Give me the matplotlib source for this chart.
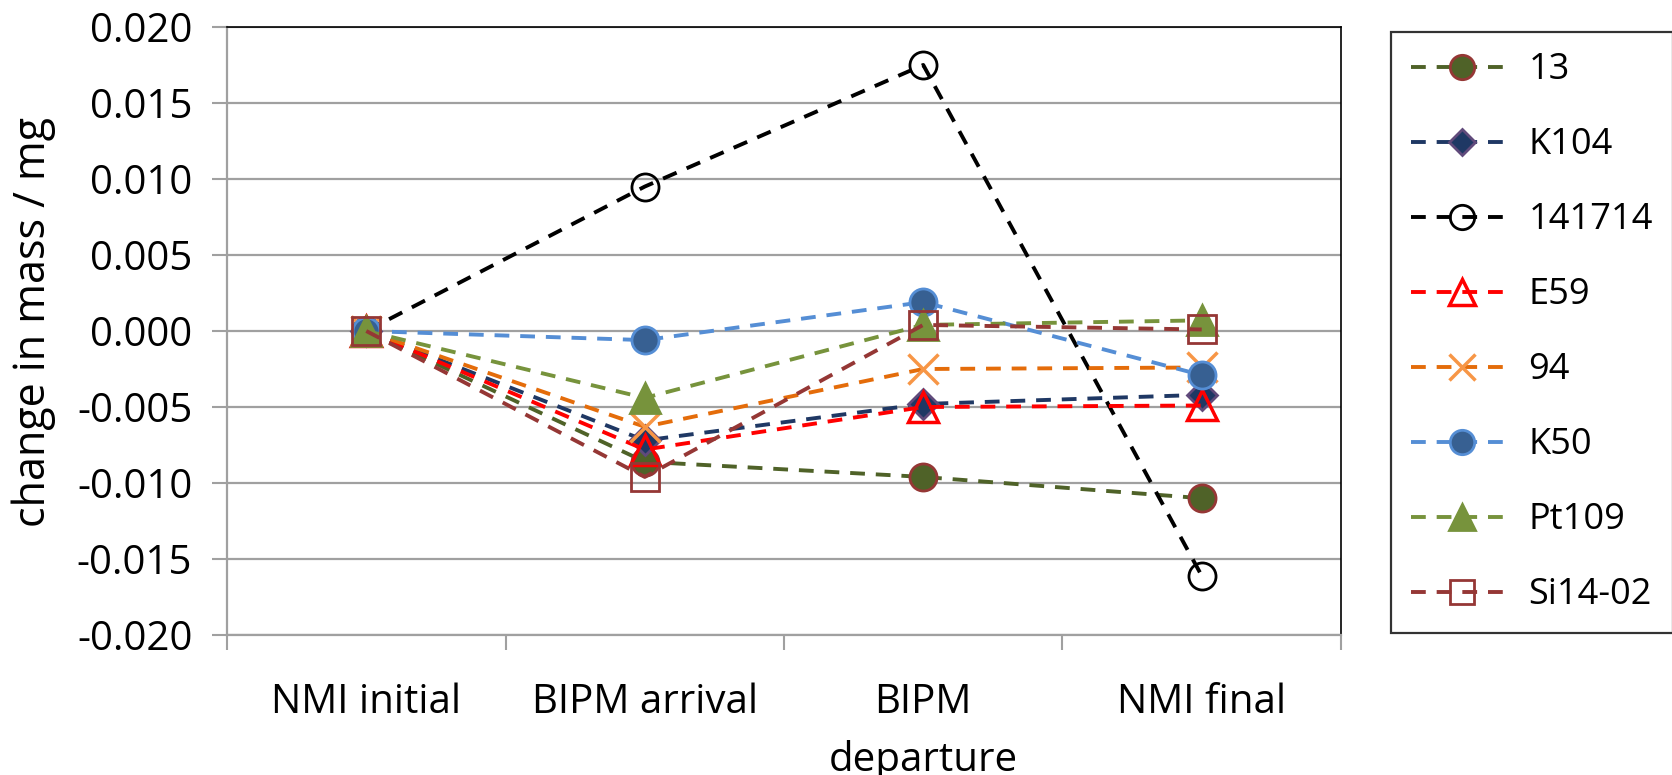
import matplotlib
matplotlib.use('Agg')
import matplotlib.pyplot as plt
from matplotlib.ticker import FixedLocator, FormatStrFormatter

plt.rcParams['font.family'] = ['Open Sans', 'DejaVu Sans']
plt.rcParams['axes.unicode_minus'] = False

STAGES = ['NMI initial', 'BIPM arrival', 'BIPM\ndeparture', 'NMI final']
Y_TICKS = [-0.020, -0.015, -0.010, -0.005, 0.000, 0.005, 0.010, 0.015, 0.020]

S13 = [0.0, -0.0086, -0.0096, -0.0110]
K104 = [0.0, -0.0072, -0.0048, -0.0042]
S141714 = [0.0, 0.0095, 0.0175, -0.0161]
E59 = [0.0, -0.0078, -0.0050, -0.0049]
S94 = [0.0, -0.0063, -0.0025, -0.0024]
K50 = [0.0, -0.0006, 0.0019, -0.0029]
PT109 = [0.0, -0.0044, 0.0004, 0.0007]
SI1402 = [0.0, -0.0096, 0.0004, 0.0001]

# name, values, line colour, marker, face, edge, size
SERIES = [
    ('13', S13, '#4F6228', 'o', '#4F6228', '#953735', 19.5),
    ('K104', K104, '#1F3864', 'D', '#1F3864', '#604A7B', 15),
    ('141714', S141714, '#000000', 'o', 'none', '#000000', 19.5),
    ('E59', E59, '#FF0000', '^', 'none', '#FF0000', 21),
    ('94', S94, '#E46C0A', 'x', '#F79646', '#F79646', 21),
    ('K50', K50, '#558ED5', 'o', '#376092', '#558ED5', 19.5),
    ('Pt109', PT109, '#77933C', '^', '#77933C', '#77933C', 21),
    ('Si14-02', SI1402, '#953735', 's', 'none', '#953735', 19.5),
]

fig = plt.figure(figsize=(16.72, 7.75), dpi=100)
ax = fig.add_axes([0.1358, 0.1806, 0.8020 - 0.1358, 0.9652 - 0.1806])

x = list(range(len(STAGES)))
for name, vals, lc, mk, fc, ec, ms in SERIES:
    mew = 2.5 if (mk == '^' and fc == 'none') or mk == 'x' else 2
    ax.plot(x, vals, color=lc, linewidth=2.8, dashes=(3.8, 2.8), marker=mk,
            markersize=ms, markerfacecolor=fc, markeredgecolor=ec,
            markeredgewidth=mew, label=name)

ax.set_xlim(-0.5, 3.5)
ax.set_ylim(-0.020, 0.020)
ax.set_yticks(Y_TICKS)
ax.yaxis.set_major_formatter(FormatStrFormatter('%.3f'))
ax.set_xticks(x)
ax.set_xticklabels(STAGES, linespacing=1.55)
ax.xaxis.set_minor_locator(FixedLocator([-0.5, 0.5, 1.5, 2.5, 3.5]))
ax.tick_params(axis='x', which='major', length=0, pad=34, labelsize=29)
ax.tick_params(axis='x', which='minor', length=11, width=1.5, color='#A0A0A0')
ax.tick_params(axis='y', length=11, width=1.5, color='#A0A0A0', pad=14, labelsize=29)
ax.grid(axis='y', color='#A0A0A0', linewidth=1.6)
ax.set_axisbelow(True)
for side in ('left', 'bottom'):
    ax.spines[side].set_color('#A0A0A0')
    ax.spines[side].set_linewidth(1.6)
for side in ('top', 'right'):
    ax.spines[side].set_color('#000000')
    ax.spines[side].set_linewidth(1.2)

fig.text(0.0203, 0.585, 'change in mass / mg', rotation=90, ha='center',
         va='center', fontsize=31)

leg = fig.legend(loc='upper left', bbox_to_anchor=(0.8319, 0.9587),
                 borderaxespad=0, fontsize=26, frameon=True, fancybox=False,
                 edgecolor='#000000', handlelength=2.83, handletextpad=0.42,
                 labelspacing=1.08, borderpad=0.56, markerscale=0.9)
leg.get_frame().set_linewidth(1.6)

fig.savefig('out.png', dpi=100)
